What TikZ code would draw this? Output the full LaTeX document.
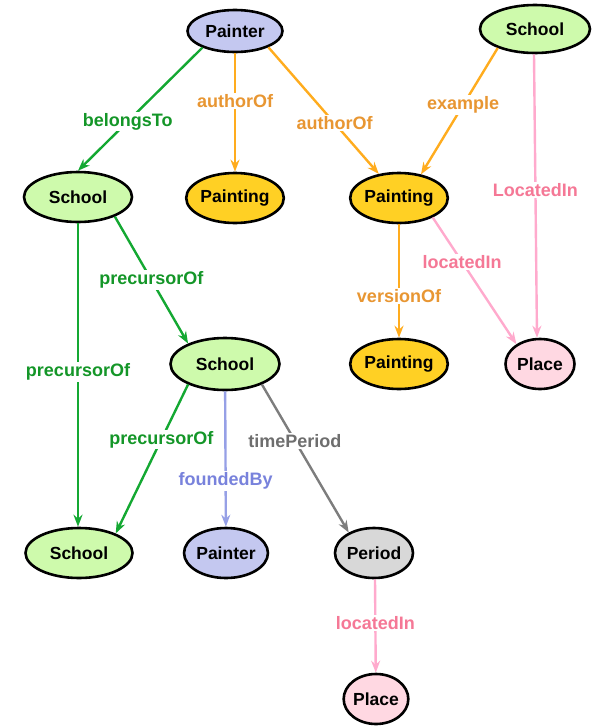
\documentclass[tikz,border=0pt]{standalone}
\usepackage{fontspec}
\setmainfont{Liberation Sans}
\usepackage{tikz}
\usetikzlibrary{shapes.geometric,arrows.meta}
\definecolor{painterfill}{RGB}{196,200,240}
\definecolor{schoolfill}{RGB}{206,250,172}
\definecolor{paintingfill}{RGB}{255,208,36}
\definecolor{placefill}{RGB}{255,216,226}
\definecolor{periodfill}{RGB}{216,216,216}
\definecolor{grnline}{RGB}{20,168,50}
\definecolor{grntext}{RGB}{20,150,40}
\definecolor{orgline}{RGB}{255,172,30}
\definecolor{orgtext}{RGB}{232,150,50}
\definecolor{pnkline}{RGB}{255,170,205}
\definecolor{pnktext}{RGB}{245,120,150}
\definecolor{lavline}{RGB}{150,160,230}
\definecolor{lavtext}{RGB}{120,130,220}
\definecolor{gryline}{RGB}{125,125,125}
\definecolor{grytext}{RGB}{110,110,110}
\tikzset{
  cls/.style={ellipse, draw, line width=2.6pt, inner sep=0pt, minimum height=50pt,
    font=\fontsize{17.5}{20}\selectfont\bfseries},
  painter/.style={cls, fill=painterfill},
  school/.style={cls, fill=schoolfill},
  painting/.style={cls, fill=paintingfill},
  place/.style={cls, fill=placefill},
  period/.style={cls, fill=periodfill},
  rel/.style={line width=2.4pt, -{Stealth[length=12pt,width=9pt]}},
  lbl/.style={fill=white, inner sep=1.5pt, font=\fontsize{18}{20}\selectfont\bfseries},
}

\begin{document}
\begin{tikzpicture}[x=1pt, y=-1pt]
		\useasboundingbox (0,0) rectangle (600,726);
		% classes
		\node(P1)[painter, minimum width=95pt, minimum height=42pt] at (235,31){Painter};
		\node(S1)[school, minimum width=110pt, minimum height=48pt] at (535,29){School};
		\node(S2)[school, minimum width=108pt] at (78,197){School};
		\node(T1)[painting, minimum width=95pt] at (235,198){Painting};
		\node(T2)[painting, minimum width=95pt] at (399,198){Painting};
		\node(T3)[painting, minimum width=95pt] at (399,364){Painting};
		\node(L1)[place, minimum width=69pt] at (540,364){Place};
		\node(S3)[school, minimum width=109pt, minimum height=52pt] at (225,364){School};
		\node(S4)[school, minimum width=107pt] at (79,553){School};
		\node(P2)[painter, minimum width=82pt] at (226,553){Painter};
		\node(D1)[period, minimum width=78pt] at (374,553){Period};
		\node(L2)[place, minimum width=62pt] at (376,699){Place};
		% relations
		\draw[rel, grnline](P1.207) to node[lbl, text=grntext, pos=0.6]{belongsTo}(S2.north);
		\draw[rel, orgline](P1) to node[lbl, text=orgtext, pos=0.4]{authorOf}(T1);
		\draw[rel, orgline](P1.334) to node[lbl, text=orgtext, pos=0.6]{authorOf}(T2.130);
		\draw[rel, orgline](S1.207) to node[lbl, text=orgtext, pos=0.45]{example}(T2.47);
		\draw[rel, pnkline]([xshift=-1pt]S1.south) to node[lbl, text=pnktext, pos=0.48]{LocatedIn}([xshift=-3pt]L1.north);
		\draw[rel, pnkline](T2.330) to node[lbl, text=pnktext, pos=0.35]{locatedIn}(L1.140);
		\draw[rel, orgline](T2) to node[lbl, text=orgtext, pos=0.63]{versionOf}(T3);
		\draw[rel, grnline](S2.south) to node[lbl, text=grntext, pos=0.49]{precursorOf}([xshift=-1pt]S4.north);
		\draw[rel, grnline](S2.332) to node[lbl, text=grntext, pos=0.5]{precursorOf}(S3.151);
		\draw[rel, grnline](S3.209) to node[lbl, text=grntext, pos=0.37]{precursorOf}(S4.28);
		\draw[rel, lavline](S3) to node[lbl, text=lavtext, pos=0.66]{foundedBy}(P2);
		\draw[rel, gryline](S3.331) to node[lbl, text=grytext, pos=0.38]{timePeriod}(D1.141);
		\draw[rel, pnkline]([xshift=1pt]D1.south) to node[lbl, text=pnktext, pos=0.47]{locatedIn}(L2);
	\end{tikzpicture}
\end{document}
